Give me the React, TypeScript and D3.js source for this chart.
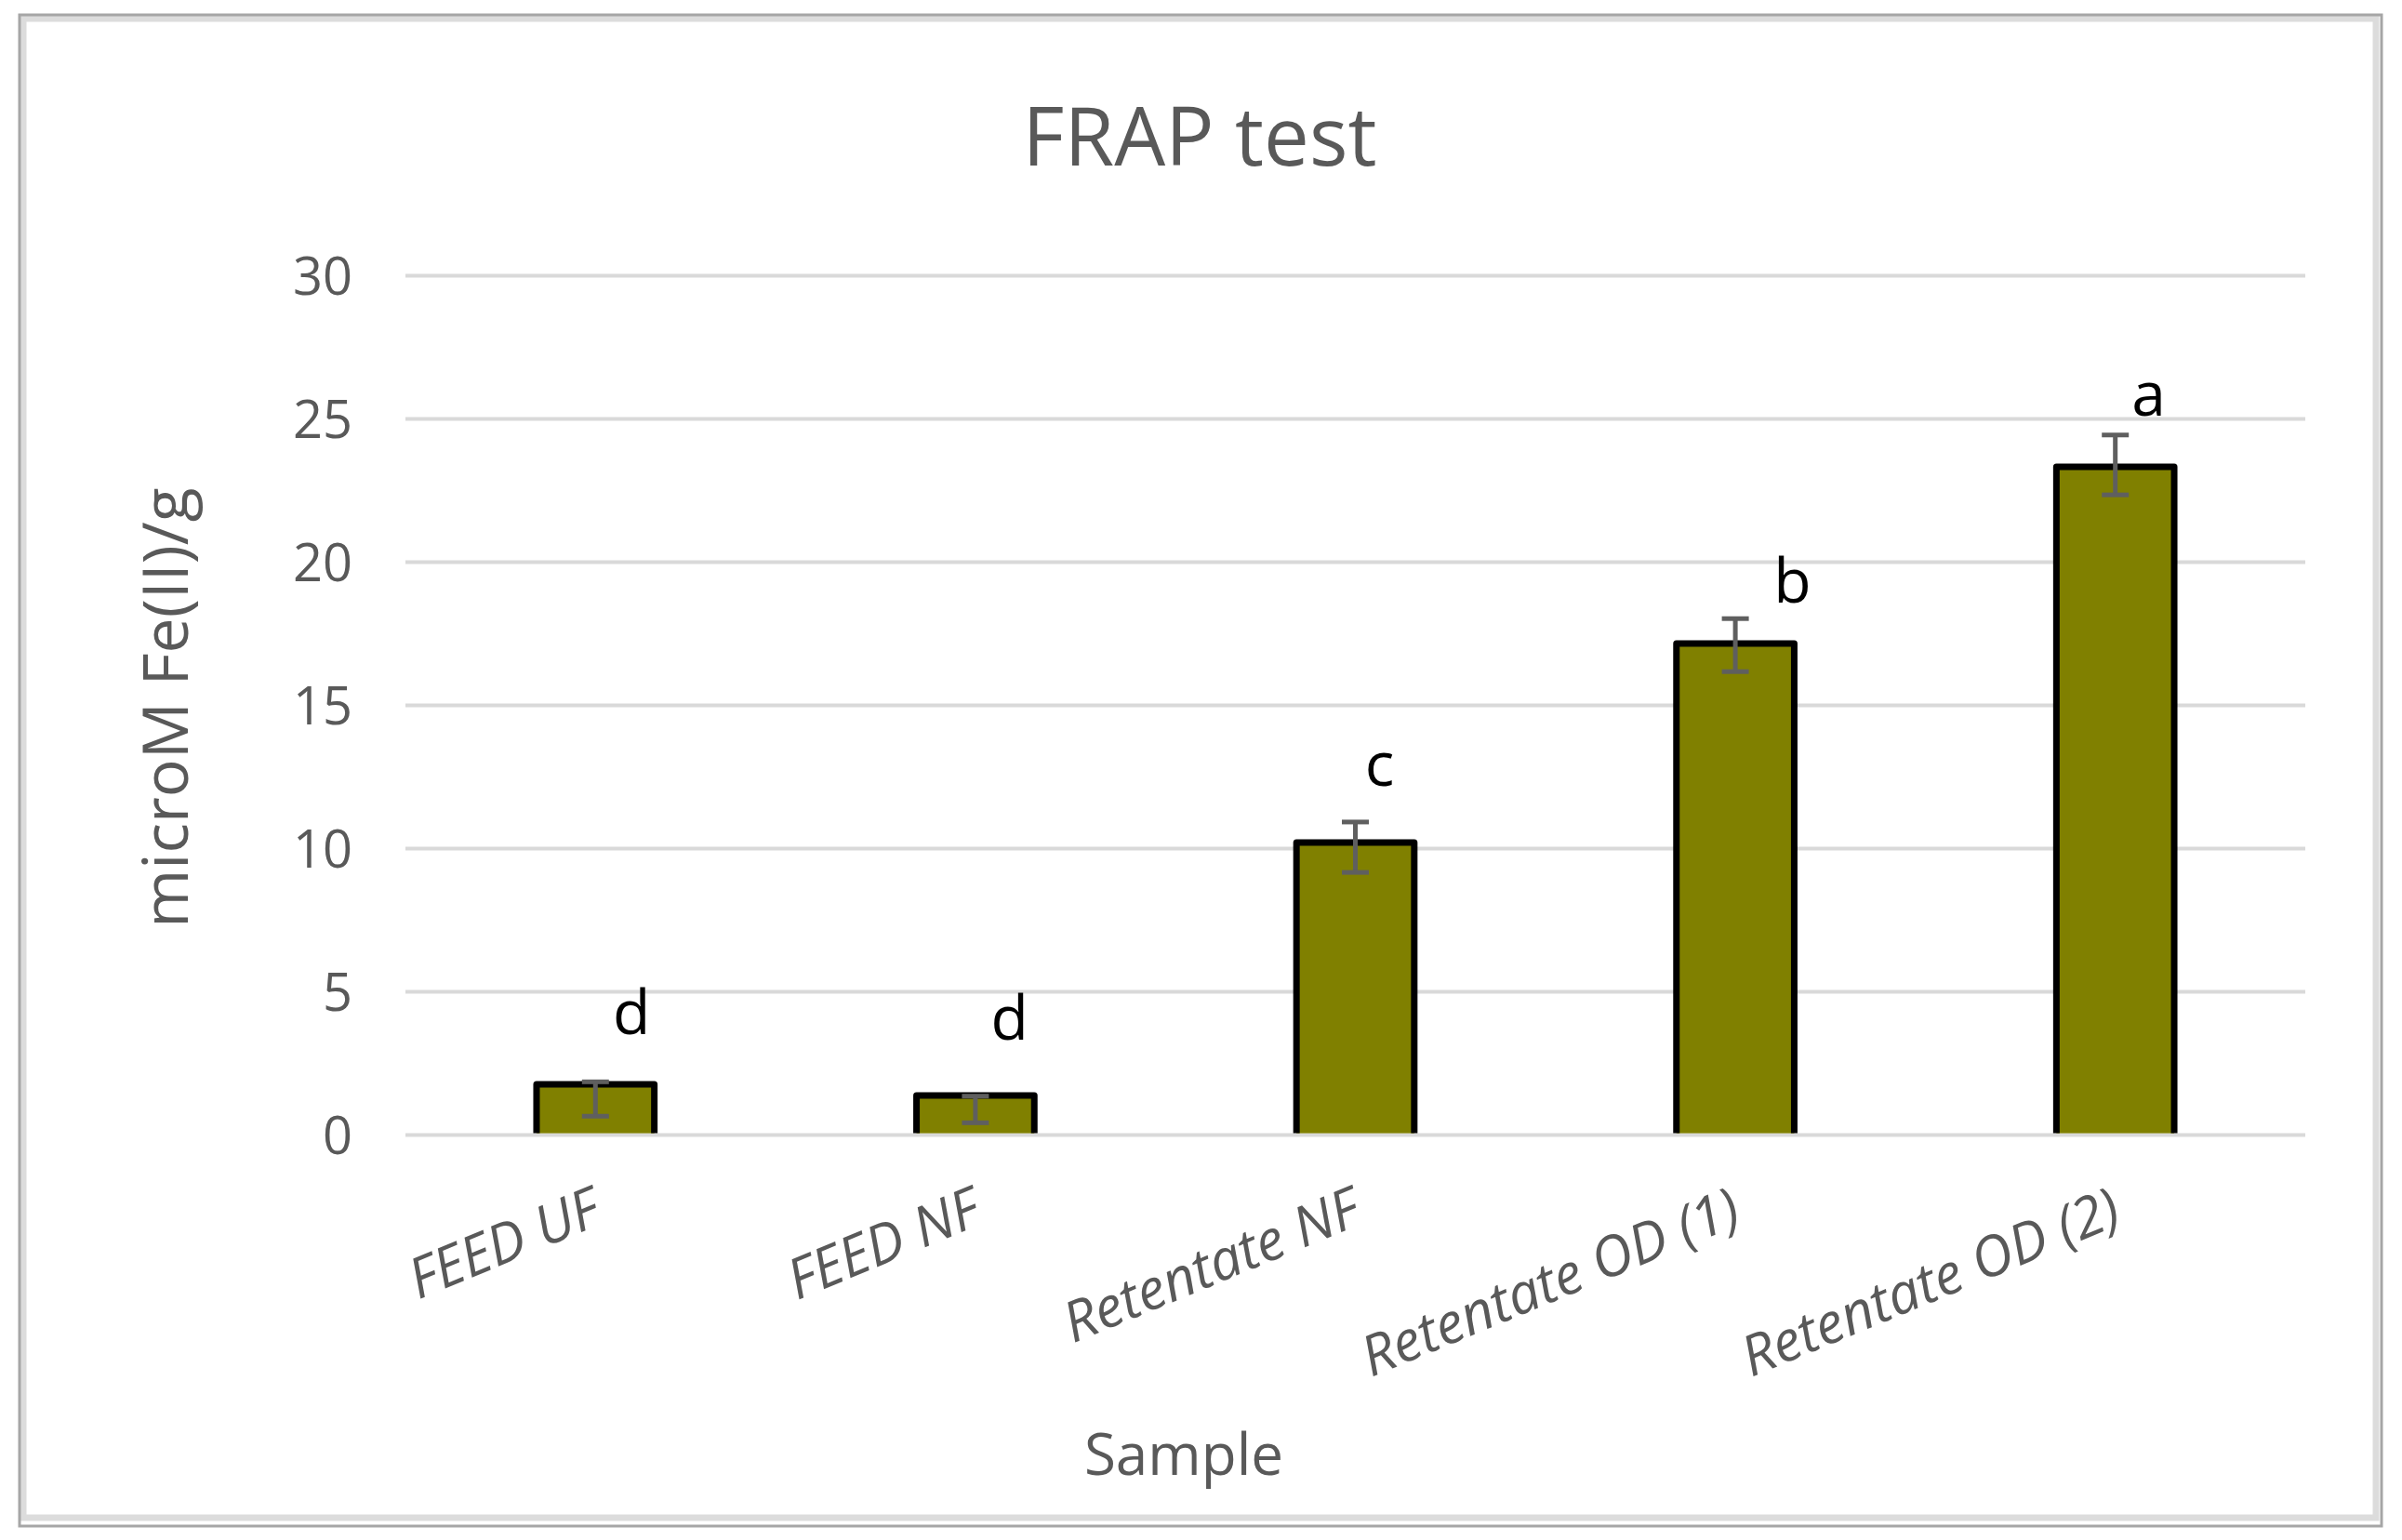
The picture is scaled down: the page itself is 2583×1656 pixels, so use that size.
import React, { useEffect, useRef } from 'react';
import * as d3 from 'd3';

// FRAP test data
const categories = ['FEED UF', 'FEED NF', 'Retentate NF', 'Retentate OD (1)', 'Retentate OD (2)'];
const values = [1.77, 1.38, 10.21, 17.16, 23.33];
const errUpper = [1.86, 1.36, 10.93, 18.03, 24.44];
const errLower = [0.66, 0.43, 9.17, 16.18, 22.35];
const groupLetters = ['d', 'd', 'c', 'b', 'a'];
const letterLevels = [3.54, 3.34, 12.2, 18.6, 25.1];
const letterShift = [0.095, 0.09, 0.064, 0.15, 0.088]; // fraction of band step
const yTicks = [0, 5, 10, 15, 20, 25, 30];

const FONT = '"Open Sans", "Liberation Sans", sans-serif';

const App = () => {
    const svgRef = useRef<SVGSVGElement>(null);

    useEffect(() => {
        const width = 2583;
        const height = 1656;
        const left = 436, right = 2479, top = 296.5, bottom = 1220.6;

        const svg = d3.select(svgRef.current);
        svg.selectAll('*').remove();
        svg.attr('width', width).attr('height', height);

        svg.append('rect')
            .attr('width', width).attr('height', height)
            .attr('fill', '#fff');

        // chart frame: light inner band + darker outer line
        svg.append('rect')
            .attr('x', 25).attr('y', 20)
            .attr('width', 2530).attr('height', 1612)
            .attr('fill', 'none')
            .attr('stroke', '#dcdcdc')
            .attr('stroke-width', 7);
        svg.append('rect')
            .attr('x', 21).attr('y', 16)
            .attr('width', 2540).attr('height', 1625)
            .attr('fill', 'none')
            .attr('stroke', '#a6a6a6')
            .attr('stroke-width', 3);

        const x = d3.scaleBand()
            .domain(categories)
            .range([left, right])
            .paddingInner(0.69)
            .paddingOuter(0.345);

        const y = d3.scaleLinear().domain([0, 30]).range([bottom, top]);

        // gridlines
        svg.append('g')
            .selectAll('line')
            .data(yTicks)
            .enter().append('line')
            .attr('x1', left).attr('x2', right)
            .attr('y1', d => y(d)).attr('y2', d => y(d))
            .attr('stroke', '#d9d9d9')
            .attr('stroke-width', 4);

        // y tick labels
        svg.append('g')
            .selectAll('text')
            .data(yTicks)
            .enter().append('text')
            .attr('x', 379)
            .attr('y', d => y(d))
            .attr('dy', '0.36em')
            .attr('text-anchor', 'end')
            .attr('font-family', FONT)
            .attr('font-size', 56)
            .attr('fill', '#595959')
            .text(d => d);

        // bars: fill, then an open outline (no bottom edge) that stops at the baseline
        const base = y(0) - 2;
        const bars = svg.append('g');
        bars.selectAll('rect')
            .data(values)
            .enter().append('rect')
            .attr('x', (d, i) => x(categories[i]))
            .attr('y', d => y(d))
            .attr('width', x.bandwidth())
            .attr('height', d => base - y(d))
            .attr('fill', '#808000');
        bars.selectAll('path')
            .data(values)
            .enter().append('path')
            .attr('d', (d, i) => {
                const x0 = x(categories[i]);
                const x1 = x0 + x.bandwidth();
                const p = d3.path();
                p.moveTo(x0, base);
                p.lineTo(x0, y(d));
                p.lineTo(x1, y(d));
                p.lineTo(x1, base);
                return p.toString();
            })
            .attr('fill', 'none')
            .attr('stroke', '#000')
            .attr('stroke-width', 7)
            .attr('stroke-linejoin', 'round');

        // error bars
        const cx = (i: number) => x(categories[i]) + x.bandwidth() / 2;
        const capW = 29;
        const eb = svg.append('g')
            .attr('stroke', '#5f5f5f')
            .attr('stroke-width', 5);
        values.forEach((v, i) => {
            eb.append('line')
                .attr('x1', cx(i)).attr('x2', cx(i))
                .attr('y1', y(errUpper[i])).attr('y2', y(errLower[i]));
            eb.append('line')
                .attr('x1', cx(i) - capW / 2).attr('x2', cx(i) + capW / 2)
                .attr('y1', y(errUpper[i])).attr('y2', y(errUpper[i]));
            eb.append('line')
                .attr('x1', cx(i) - capW / 2).attr('x2', cx(i) + capW / 2)
                .attr('y1', y(errLower[i])).attr('y2', y(errLower[i]));
        });

        // significance letters
        svg.append('g')
            .selectAll('text')
            .data(groupLetters)
            .enter().append('text')
            .attr('x', (d, i) => cx(i) + letterShift[i] * x.step())
            .attr('y', (d, i) => y(letterLevels[i]))
            .attr('text-anchor', 'middle')
            .attr('font-family', FONT)
            .attr('font-size', 66)
            .attr('fill', '#000')
            .text(d => d);

        // category labels, rotated
        svg.append('g')
            .selectAll('text')
            .data(categories)
            .enter().append('text')
            .attr('transform', (d, i) => `translate(${cx(i) + 9},1315) rotate(-22.5)`)
            .attr('text-anchor', 'end')
            .attr('font-family', FONT)
            .attr('font-style', 'italic')
            .attr('font-size', 60)
            .attr('fill', '#595959')
            .text(d => d);

        // title
        svg.append('text')
            .attr('x', 1290).attr('y', 178)
            .attr('text-anchor', 'middle')
            .attr('font-family', FONT)
            .attr('font-size', 87)
            .attr('fill', '#595959')
            .text('FRAP test');

        // axis titles
        svg.append('text')
            .attr('x', 1273).attr('y', 1586)
            .attr('text-anchor', 'middle')
            .attr('font-family', FONT)
            .attr('font-size', 62)
            .attr('fill', '#595959')
            .text('Sample');

        svg.append('text')
            .attr('transform', 'translate(202,761) rotate(-90)')
            .attr('text-anchor', 'middle')
            .attr('font-family', FONT)
            .attr('font-size', 68)
            .attr('fill', '#595959')
            .text('microM Fe(II)/g');
    }, []);

    return (
        <svg ref={svgRef} style={{ position: 'absolute', left: 0, top: 0 }}></svg>
    );
};

export default App;
